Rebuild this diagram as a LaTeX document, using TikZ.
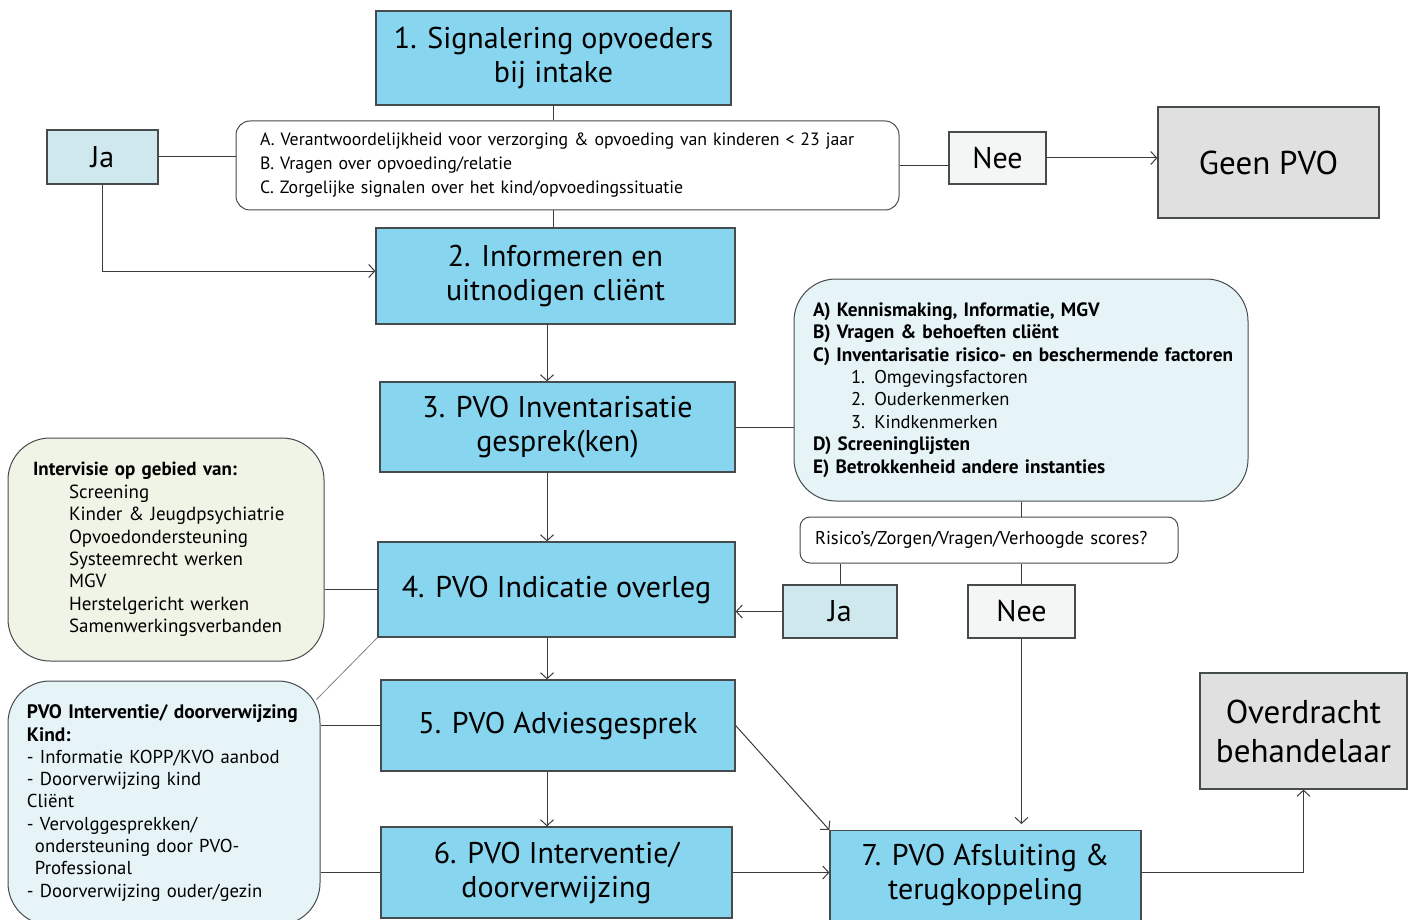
\documentclass[tikz,border=0pt]{standalone}
\usepackage{fontspec}
\setmainfont{PT Sans}
\usetikzlibrary{arrows.meta,calc}
\definecolor{stepblue}{RGB}{135,213,238}
\definecolor{edgegray}{RGB}{70,75,78}
\definecolor{linegray}{RGB}{60,60,60}
\definecolor{jafill}{RGB}{207,232,237}
\definecolor{neefill}{RGB}{244,246,246}
\definecolor{endgray}{RGB}{224,224,224}
\definecolor{infofill}{RGB}{230,244,248}
\definecolor{intfill}{RGB}{240,244,230}
\newcommand{\bigbold}[1]{{\fontsize{19.3}{22.4}\selectfont\bfseries #1}}
\begin{document}
\begin{tikzpicture}[x=1pt,y=-1pt,
  stepbox/.style={draw=edgegray, line width=1.2pt, fill=stepblue, align=center, inner sep=0pt, font=\fontsize{30}{34}\selectfont},
  jabox/.style={draw=edgegray, line width=1.2pt, fill=jafill, inner sep=0pt, font=\fontsize{30}{30}\selectfont},
  neebox/.style={draw=edgegray, line width=1.2pt, fill=neefill, inner sep=0pt, font=\fontsize{30}{30}\selectfont},
  endbox/.style={draw=edgegray, line width=1.2pt, fill=endgray, align=center, inner sep=0pt, font=\fontsize{33}{39}\selectfont},
  notebox/.style={draw=edgegray, line width=1pt, rounded corners=14pt, align=left, inner ysep=0pt, font=\fontsize{17.8}{24}\selectfont},
  bigbox/.style={draw=edgegray, line width=1pt, rounded corners=42pt, align=left, inner ysep=0pt, font=\fontsize{18.5}{22.4}\selectfont},
  conn/.style={draw=linegray, line width=1pt},
  arr/.style={conn, -{Straight Barb[length=6pt,width=13pt]}}]
\useasboundingbox (0,0) rectangle (1416,920);
\coordinate (colx) at (547,0);

% main column
\node[stepbox, minimum width=355, minimum height=94] (box1) at (553.5,58) {1. Signalering opvoeders\\bij intake};
\node[notebox, fill=white, minimum width=663, minimum height=89, text width=615, inner xsep=24pt] (crit) at (567.5,165.5)
  {A. Verantwoordelijkheid voor verzorging \& opvoeding van kinderen < 23 jaar\\B. Vragen over opvoeding/relatie\\C. Zorgelijke signalen over het kind/opvoedingssituatie};
\node[jabox, minimum width=111, minimum height=54] (ja1) at (102.5,157) {Ja};
\node[neebox, minimum width=97, minimum height=52] (nee1) at (997.5,158) {Nee};
\node[endbox, minimum width=221, minimum height=111] (geen) at (1268.5,162.5) {Geen PVO};
\node[stepbox, minimum width=359, minimum height=96] (box2) at (555.5,276) {2. Informeren en\\uitnodigen cliënt};
\node[stepbox, minimum width=355, minimum height=90] (box3) at (557.5,427) {3. PVO Inventarisatie\\gesprek(ken)};
\node[bigbox, fill=infofill, minimum width=454, minimum height=222, text width=430, inner xsep=12pt] (info) at (1021,390)
  {\hspace*{7pt}\bigbold{A) Kennismaking, Informatie, MGV}\\
   \hspace*{7pt}\bigbold{B) Vragen \& behoeften cliënt}\\
   \hspace*{7pt}\bigbold{C) Inventarisatie risico- en beschermende factoren}\\
   \hspace*{45pt}1. Omgevingsfactoren\\
   \hspace*{45pt}2. Ouderkenmerken\\
   \hspace*{45pt}3. Kindkenmerken\\
   \hspace*{7pt}\bigbold{D) Screeninglijsten}\\
   \hspace*{7pt}\bigbold{E) Betrokkenheid andere instanties}};
\node[notebox, fill=white, rounded corners=10pt, minimum width=378, minimum height=46, text width=356, inner xsep=11pt, font=\fontsize{18.5}{22}\selectfont] (risico) at (989,540)
  {\hspace*{4pt}Risico’s/Zorgen/Vragen/Verhoogde scores?};
\node[jabox, minimum width=114, minimum height=53] (ja2) at (840,611.5) {Ja};
\node[neebox, minimum width=107, minimum height=53] (nee2) at (1021.5,611.5) {Nee};
\node[stepbox, minimum width=357, minimum height=95] (box4) at (556.5,589.5) {4. PVO Indicatie overleg};
\node[bigbox, fill=intfill, minimum width=316, minimum height=223, text width=290, inner xsep=13pt, font=\fontsize{19}{22.4}\selectfont] (interv) at (166,549.5)
  {\hspace*{12pt}\textbf{Intervisie op gebied van:}\\
   \hspace*{48pt}Screening\\
   \hspace*{48pt}Kinder \& Jeugdpsychiatrie\\
   \hspace*{48pt}Opvoedondersteuning\\
   \hspace*{48pt}Systeemrecht werken\\
   \hspace*{48pt}MGV\\
   \hspace*{48pt}Herstelgericht werken\\
   \hspace*{48pt}Samenwerkingsverbanden};
\node[stepbox, minimum width=354, minimum height=91] (box5) at (558,725.5) {5. PVO Adviesgesprek};
\node[bigbox, fill=infofill, minimum width=312, minimum height=244, text width=298, inner xsep=7pt, font=\fontsize{18.7}{22.3}\selectfont] (pvo) at (164,803)
  {\hspace*{12pt}{\fontsize{19.5}{22.3}\selectfont\bfseries PVO Interventie/ doorverwijzing}\\
   \hspace*{12pt}{\fontsize{19.5}{22.3}\selectfont\bfseries Kind:}\\
   \hspace*{12pt}- Informatie KOPP/KVO aanbod\\
   \hspace*{12pt}- Doorverwijzing kind\\
   \hspace*{12pt}Cliënt\\
   \hspace*{12pt}- Vervolggesprekken/\\
   \hspace*{20pt}ondersteuning door PVO-\\
   \hspace*{20pt}Professional\\
   \hspace*{12pt}- Doorverwijzing ouder/gezin};
\node[stepbox, minimum width=351, minimum height=91] (box6) at (556.5,872.5) {6. PVO Interventie/\\doorverwijzing};
\node[stepbox, minimum width=311, anchor=north, inner ysep=14pt] (box7) at (985.5,830) {7. PVO Afsluiting \&\\terugkoppeling\rule[-60pt]{0pt}{0pt}};
\node[endbox, minimum width=207, minimum height=116] (overdr) at (1303.5,731) {Overdracht\\behandelaar};

% connectors
\draw[conn] (box1.south) -- (box1.south |- crit.north);
\draw[conn] (box1.south |- crit.south) -- (box1.south |- box2.north);
\draw[conn] (ja1.east) -- (ja1.east -| crit.west);
\draw[arr] (ja1.south) |- ($(box2.west)+(0,-5)$);
\draw[conn] (crit.east) -- (crit.east -| nee1.west);
\draw[arr] (nee1.east) -- (nee1.east -| geen.west);
\draw[arr] (box2.south -| colx) -- (box3.north -| colx);
\draw[conn] (box3.east) -- (box3.east -| info.west);
\draw[arr] (box3.south -| colx) -- (box4.north -| colx);
\draw[conn] (info.south) -- (info.south |- risico.north);
\draw[conn] (ja2.north |- risico.south) -- (ja2.north);
\draw[conn] (nee2.north |- risico.south) -- (nee2.north);
\draw[arr] (ja2.west) -- (ja2.west -| box4.east);
\draw[arr] (nee2.south) -- ($(nee2.south |- box7.north)+(0,-6)$);
\draw[conn] (box4.west -| interv.east) -- (box4.west);
\draw[draw=gray, line width=0.8pt] (box4.south west) -- ($(pvo.north east)+(-4,19)$);
\draw[arr] (box4.south -| colx) -- (box5.north -| colx);
\draw[conn] (box5.west -| pvo.east) -- (box5.west);
\draw[arr] (box5.south -| colx) -- (box6.north -| colx);
\draw[arr] (box5.east) -- (box7.north west);
\draw[conn] (box6.west -| pvo.east) -- (box6.west);
\draw[arr] (box6.east) -- (box6.east -| box7.west);
\draw[arr] (box6.east -| box7.east) -| (overdr.south);
\end{tikzpicture}
\end{document}
